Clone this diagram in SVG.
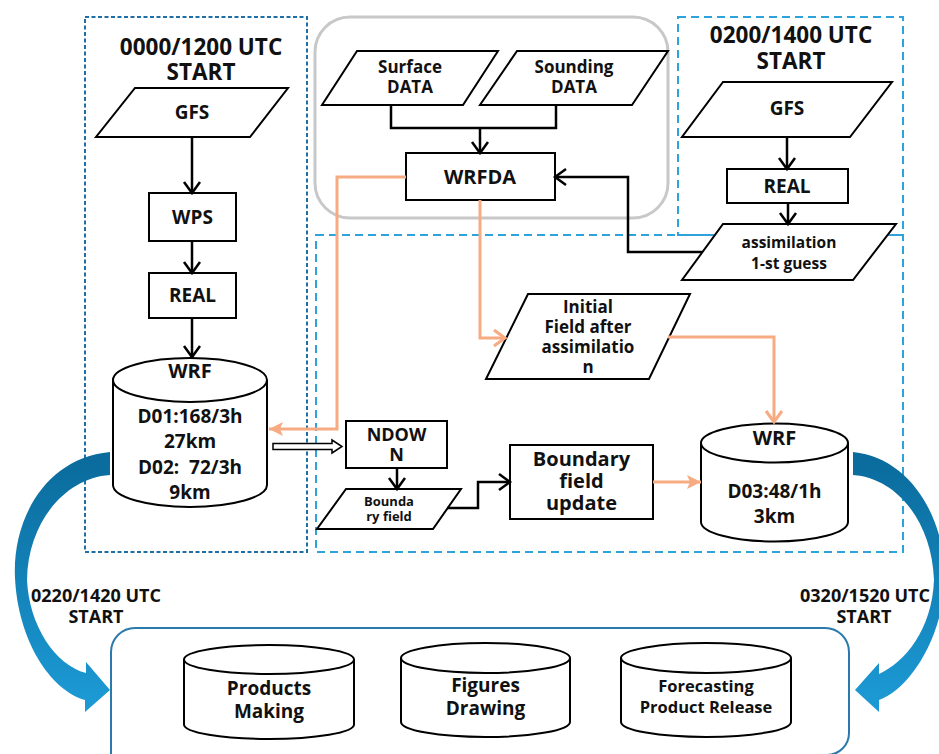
<svg xmlns="http://www.w3.org/2000/svg" width="939" height="754" viewBox="0 0 939 754">
<style>
text{font-family:"Open Sans","Liberation Sans",sans-serif;font-weight:bold;text-anchor:middle;fill:#111}
.shape{fill:#fff;stroke:#000;stroke-width:2}
.front{fill:none;stroke:#000;stroke-width:2}
.blk{fill:none;stroke:#000;stroke-width:2.5}
.org{fill:none;stroke:#f7ab82;stroke-width:3}
.dashA{fill:none;stroke:#1f6fa5;stroke-width:2;stroke-dasharray:4 2.5}
.dashB{fill:none;stroke:#2ea2db;stroke-width:2;stroke-dasharray:8 5}
.t23{font-size:22.5px}.t20{font-size:20px}.t19{font-size:19px}.t18{font-size:18px}.t17{font-size:17px}.t16{font-size:16.5px}.t15{font-size:15.5px}.t13{font-size:13px}
</style>
<defs>
<marker id="chevK" markerUnits="userSpaceOnUse" markerWidth="16" markerHeight="20" refX="11" refY="8" orient="auto" overflow="visible"><path d="M0,0 L11,8 L0,16" fill="none" stroke="#000" stroke-width="2.5"/></marker>
<marker id="chevO" markerUnits="userSpaceOnUse" markerWidth="16" markerHeight="20" refX="11" refY="8" orient="auto" overflow="visible"><path d="M0,0 L11,8 L0,16" fill="none" stroke="#f7ab82" stroke-width="3"/></marker>
<marker id="triO" markerUnits="userSpaceOnUse" markerWidth="16" markerHeight="16" refX="14" refY="7" orient="auto" overflow="visible"><path d="M0,0 L14,7 L0,14 L3,7 z" fill="#f7ab82"/></marker>
<linearGradient id="blueL" gradientUnits="userSpaceOnUse" x1="0" y1="452" x2="0" y2="712"><stop offset="0" stop-color="#0a6a9b"/><stop offset="1" stop-color="#1d9bd6"/></linearGradient>
</defs>

<g id="frames">
<rect class="dashA" x="85" y="17" width="222" height="535"/>
<rect x="315" y="17" width="353" height="201" rx="35" fill="none" stroke="#c8c8c8" stroke-width="3"/>
<rect class="dashB" x="678" y="17" width="225" height="218"/>
<rect class="dashB" x="316" y="235" width="587" height="317"/>
<path d="M111,756 V652 A24,24 0 0 1 135,628 H825 A24,24 0 0 1 849,652 V733 A22,22 0 0 1 827,755" fill="none" stroke="#2a7aab" stroke-width="2"/>
</g>

<g id="bigArrows">
<path d="M110,452 C45,458 12,520 15,578 C18,640 50,690 85,700 L85,712 L110,690 L86,662 L86,673 C55,665 29,625 27,580 C28,522 65,478 110,475 Z" fill="url(#blueL)"/>
<path d="M853,452 C912,458 945,520 945,578 C943,640 908,690 879,700 L879,712 L855,690 L879,663 L879,674 C905,662 932,630 934,580 C932,522 897,478 853,475 Z" fill="url(#blueL)"/>
</g>

<g id="titles">
<text class="t23" x="201" y="55">0000/1200 UTC</text>
<text class="t23" x="201" y="80">START</text>
<text class="t23" x="791" y="43">0200/1400 UTC</text>
<text class="t23" x="791" y="69">START</text>
<text class="t18" x="96" y="602">0220/1420 UTC</text>
<text class="t18" x="96" y="623">START</text>
<text class="t18" x="865" y="602">0320/1520 UTC</text>
<text class="t18" x="864" y="623">START</text>
</g>

<g id="gfsL"><polygon class="shape" points="135,88 288,88 250,137 96,137"/><text class="t19" x="192" y="119">GFS</text></g>
<g id="wps"><rect class="shape" x="149" y="193" width="87" height="48"/><text class="t19" x="192.5" y="224">WPS</text></g>
<g id="realL"><rect class="shape" x="149" y="273" width="87" height="45"/><text class="t19" x="192.5" y="302">REAL</text></g>
<g id="wrfL">
<path class="shape" d="M113,380 A77,22 0 0 1 267,380 L267,485 A77,22 0 0 1 113,485 Z"/>
<path class="front" d="M113,380 A77,22 0 0 0 267,380"/>
<text class="t20" x="190" y="378">WRF</text>
<text class="t19" x="190" y="423">D01:168/3h</text>
<text class="t19" x="190" y="448">27km</text>
<text class="t19" x="190" y="474" xml:space="preserve">D02:  72/3h</text>
<text class="t19" x="190" y="499">9km</text>
</g>

<g id="surface"><polygon class="shape" points="357,51 498,51 463,105 322,105"/><text class="t17" x="410" y="73">Surface</text><text class="t17" x="410" y="93">DATA</text></g>
<g id="sounding"><polygon class="shape" points="517,51 668,51 632,105 480,105"/><text class="t17" x="574" y="73">Sounding</text><text class="t17" x="574" y="93">DATA</text></g>
<g id="wrfda"><rect class="shape" x="406" y="153" width="149" height="47"/><text class="t20" x="480" y="184">WRFDA</text></g>

<g id="gfsR"><polygon class="shape" points="723,82 892,82 850,137 682,137"/><text class="t19" x="787" y="115">GFS</text></g>
<g id="realR"><rect class="shape" x="727" y="169" width="121" height="34"/><text class="t19" x="787" y="193">REAL</text></g>
<g id="guess"><polygon class="shape" points="723,224 896,224 853,280 682,280"/><text class="t15" x="789" y="248">assimilation</text><text class="t15" x="789" y="269">1-st guess</text></g>

<g id="initial"><polygon class="shape" points="528,294 690,294 649,379 486,379"/>
<text class="t17" x="588" y="313">Initial</text><text class="t17" x="588" y="333">Field after</text><text class="t17" x="588" y="353">assimilatio</text><text class="t17" x="588" y="373">n</text></g>
<g id="ndown"><rect class="shape" x="346" y="421" width="101" height="47"/><text class="t18" x="396.5" y="441">NDOW</text><text class="t18" x="396.5" y="461">N</text></g>
<g id="bfield"><polygon class="shape" points="346,489 461,489 433,529 317,529"/><text class="t13" x="389" y="506">Bounda</text><text class="t13" x="389" y="521">ry field</text></g>
<g id="bupdate"><rect class="shape" x="510" y="445" width="143" height="74"/><text class="t20" x="581.5" y="466">Boundary</text><text class="t20" x="581.5" y="488">field</text><text class="t20" x="581.5" y="510">update</text></g>
<g id="wrfR">
<path class="shape" d="M701,443 A73.5,19.5 0 0 1 848,443 L848,522 A73.5,19.5 0 0 1 701,522 Z"/>
<path class="front" d="M701,443 A73.5,19.5 0 0 0 848,443"/>
<text class="t20" x="774.5" y="445">WRF</text>
<text class="t19" x="774.5" y="498">D03:48/1h</text>
<text class="t19" x="774.5" y="523">3km</text>
</g>

<g id="products">
<path class="shape" d="M184,659.5 A85,14.5 0 0 1 354,659.5 L354,724.5 A85,14.5 0 0 1 184,724.5 Z"/>
<path class="front" d="M184,659.5 A85,14.5 0 0 0 354,659.5"/>
<text class="t19" x="269" y="695">Products</text><text class="t19" x="269" y="718">Making</text>
</g>
<g id="figures">
<path class="shape" d="M401,658 A84.5,15 0 0 1 570,658 L570,722 A84.5,15 0 0 1 401,722 Z"/>
<path class="front" d="M401,658 A84.5,15 0 0 0 570,658"/>
<text class="t19" x="485.5" y="692">Figures</text><text class="t19" x="485.5" y="715">Drawing</text>
</g>
<g id="release">
<path class="shape" d="M621,658 A85,15 0 0 1 791,658 L791,722 A85,15 0 0 1 621,722 Z"/>
<path class="front" d="M621,658 A85,15 0 0 0 791,658"/>
<text class="t16" x="706" y="692">Forecasting</text><text class="t16" x="706" y="713">Product Release</text>
</g>

<g id="connectors">
<path class="blk" d="M192,137 V193" marker-end="url(#chevK)"/>
<path class="blk" d="M192,241 V273" marker-end="url(#chevK)"/>
<path class="blk" d="M192,318 V357" marker-end="url(#chevK)"/>
<path class="blk" d="M391,105 V128 H556 V105"/>
<path class="blk" d="M480,128 V153" marker-end="url(#chevK)"/>
<path class="blk" d="M787,137 V169" marker-end="url(#chevK)"/>
<path class="blk" d="M788,203 V224" marker-end="url(#chevK)"/>
<path class="blk" d="M702,252 H628 V177 H555" marker-end="url(#chevK)"/>
<path class="blk" d="M397,468 V489" marker-end="url(#chevK)"/>
<path class="blk" d="M447,508 H478 V482 H510" marker-end="url(#chevK)"/>
<path class="org" d="M406,177 H337 V429 H269" marker-end="url(#triO)"/>
<path class="org" d="M480,200 V338 H505" marker-end="url(#chevO)"/>
<path class="org" d="M668,337 H774 V422" marker-end="url(#chevO)"/>
<path class="org" d="M653,482 H701" marker-end="url(#triO)"/>
<polygon points="273,443.5 332,443.5 332,440 342,446.5 332,453 332,449.5 273,449.5" fill="#fff" stroke="#000" stroke-width="1.5"/>
</g>
</svg>
